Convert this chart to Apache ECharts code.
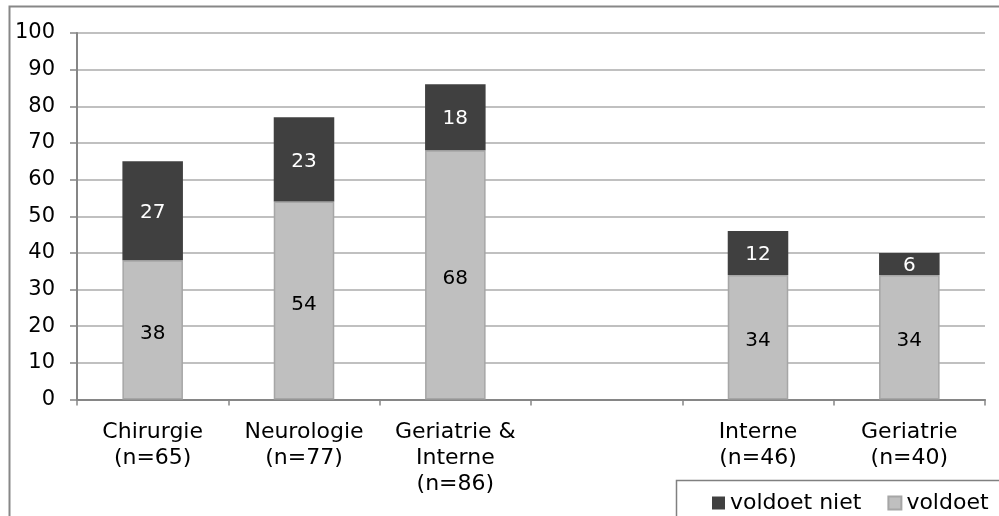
<!DOCTYPE html>
<html>
<head>
<meta charset="utf-8">
<script src="https://cdn.jsdelivr.net/npm/echarts@6/dist/echarts.min.js"></script>
<style>
html,body{margin:0;padding:0;background:#fff;}
#chart{width:999px;height:516px;}
</style>
</head>
<body>
<div id="chart"></div>
<script>
const categories = ['Chirurgie\n(n=65)', 'Neurologie\n(n=77)', 'Geriatrie &\nInterne\n(n=86)', '', 'Interne\n(n=46)', 'Geriatrie\n(n=40)'];
const voldoet = [38, 54, 68, null, 34, 34];
const voldoetNiet = [27, 23, 18, null, 12, 6];
const yTicks = [0, 10, 20, 30, 40, 50, 60, 70, 80, 90, 100];

const FONT = 'DejaVu Sans, Verdana, sans-serif';
const chart = echarts.init(document.getElementById('chart'), null, {renderer: 'canvas'});
chart.setOption({
  animation: false,
  backgroundColor: '#ffffff',
  textStyle: {fontFamily: FONT},
  grid: {left: 77, right: 14, top: 33, bottom: 116.5, containLabel: false},
  legend: {
    data: ['voldoet niet', 'voldoet'],
    left: 707, top: 487,
    icon: 'rect', itemWidth: 13, itemHeight: 13, itemGap: 26,
    textStyle: {fontFamily: FONT, fontSize: 22, color: '#000'}
  },
  xAxis: {
    type: 'category',
    data: categories,
    axisLine: {lineStyle: {color: '#868686', width: 2}},
    axisTick: {show: true, length: 6, lineStyle: {color: '#868686', width: 1.5}},
    axisLabel: {fontFamily: FONT, fontSize: 22, color: '#000', margin: 20, lineHeight: 26, interval: 0}
  },
  yAxis: {
    type: 'value',
    min: yTicks[0], max: yTicks[yTicks.length - 1], interval: 10,
    axisLine: {show: true, lineStyle: {color: '#868686', width: 2}},
    axisTick: {show: true, length: 7, lineStyle: {color: '#868686', width: 1.5}},
    axisLabel: {fontFamily: FONT, fontSize: 21, color: '#000', margin: 22},
    splitLine: {show: true, lineStyle: {color: '#c0c0c0', width: 2}}
  },
  series: [
    {
      name: 'voldoet', type: 'bar', stack: 'a', data: voldoet, barWidth: '40%',
      itemStyle: {color: '#bfbfbf', borderColor: '#a6a6a6', borderWidth: 1.5},
      label: {show: true, position: 'inside', offset: [0, 4], fontFamily: FONT, fontSize: 20, color: '#000'}
    },
    {
      name: 'voldoet niet', type: 'bar', stack: 'a', data: voldoetNiet, barWidth: '40%',
      itemStyle: {color: '#404040', borderColor: '#404040', borderWidth: 0},
      label: {show: true, position: 'inside', offset: [0, 2], fontFamily: FONT, fontSize: 20, color: '#fff'}
    }
  ],
  graphic: [
    {type: 'rect', silent: true, z: 100, shape: {x: 9.5, y: 6.5, width: 1000, height: 520}, style: {fill: null, stroke: '#878787', lineWidth: 2}},
    {type: 'rect', silent: true, z: 100, shape: {x: 676.5, y: 480.5, width: 400, height: 100}, style: {fill: null, stroke: '#808080', lineWidth: 1.5}}
  ]
});
</script>
</body>
</html>
